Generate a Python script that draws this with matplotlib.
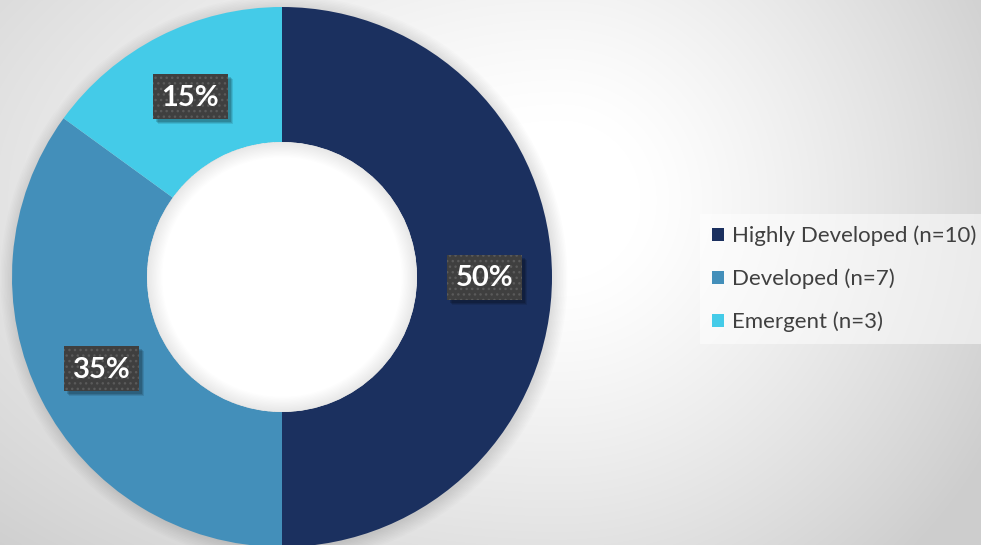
import numpy as np
import matplotlib
matplotlib.use("Agg")
import matplotlib.pyplot as plt
from matplotlib.patches import Wedge, Rectangle

labels = ["Highly Developed (n=10)", "Developed (n=7)", "Emergent (n=3)"]
counts = [10, 7, 3]
colors = ["#1b305f", "#438fba", "#44cbe8"]

W, H = 981, 545
plt.rcParams["hatch.linewidth"] = 1.0
fig = plt.figure(figsize=(W / 100, H / 100), dpi=100)

# background: soft radial gradient, white near the top middle
bg = fig.add_axes([0, 0, 1, 1])
yy, xx = np.mgrid[0:H, 0:W]
dx = xx - 560
dx = np.where(dx > 0, dx, dx * 0.6)
d = np.hypot(dx, yy - 200)
g = (255 - 50 * np.clip((d - 80) / 420, 0, 1) ** 1.2) / 255
bg.imshow(np.dstack([g, g, g]), extent=(0, W, 0, H), aspect="auto", origin="upper")
bg.axis("off")

ax = fig.add_axes([0, 0, 1, 1])

cx, cy, R = 282, 268, 270
ring = 0.5

# soft shadow around the ring
for i in range(10):
    ax.add_patch(Wedge((cx + 2, cy - 2), R + i * 1.5, 0, 360, width=R * ring + i * 3,
                       facecolor="black", edgecolor="none", alpha=0.012))

wedges, _ = ax.pie(counts, colors=colors, startangle=90, counterclock=False,
                   center=(cx, cy), radius=R, frame=True,
                   wedgeprops=dict(width=R * ring, edgecolor="none"))
ax.set_xlim(0, W)
ax.set_ylim(0, H)
ax.set_aspect("equal")
ax.axis("off")

# white hole with a faint inner shadow
rin = R * (1 - ring)
ax.add_patch(Wedge((cx, cy), rin, 0, 360, facecolor="white", edgecolor="none"))
for i in range(12):
    ax.add_patch(Wedge((cx, cy), rin, 0, 360, width=i * 1.3 + 1,
                       facecolor="black", edgecolor="none", alpha=0.008))

total = sum(counts)
bw, bh = 75, 45
for w, c in zip(wedges, counts):
    ang = np.deg2rad((w.theta1 + w.theta2) / 2)
    r = R * (1 - ring / 2)
    x = cx + r * np.cos(ang)
    y = cy + r * np.sin(ang)
    for k, a in [(5, 0.10), (4, 0.12), (3, 0.15)]:
        ax.add_patch(Rectangle((x - bw / 2 + k, y - bh / 2 - k), bw, bh,
                               facecolor="black", edgecolor="none", alpha=a))
    ax.add_patch(Rectangle((x - bw / 2, y - bh / 2), bw, bh, facecolor="#3f3f3f",
                           edgecolor="#5a5a5a", linewidth=0, hatch="..."))
    ax.text(x, y - 1, f"{c / total * 100:.0f}%", ha="center", va="center",
            fontsize=21, fontweight="bold", family="Lato", color="white")

leg = ax.legend(wedges, labels, loc="center left",
                bbox_to_anchor=(700 / W, 1 - 279 / H),
                frameon=True, fancybox=False, handlelength=0.55, handleheight=0.55,
                handletextpad=0.35, labelspacing=1.0, borderpad=0.55,
                borderaxespad=0, prop=dict(family="Lato", size=16))
frame = leg.get_frame()
frame.set_facecolor("white")
frame.set_alpha(0.5)
frame.set_edgecolor("none")
for t in leg.get_texts():
    t.set_color("#404040")

fig.savefig("out.png", dpi=100)
